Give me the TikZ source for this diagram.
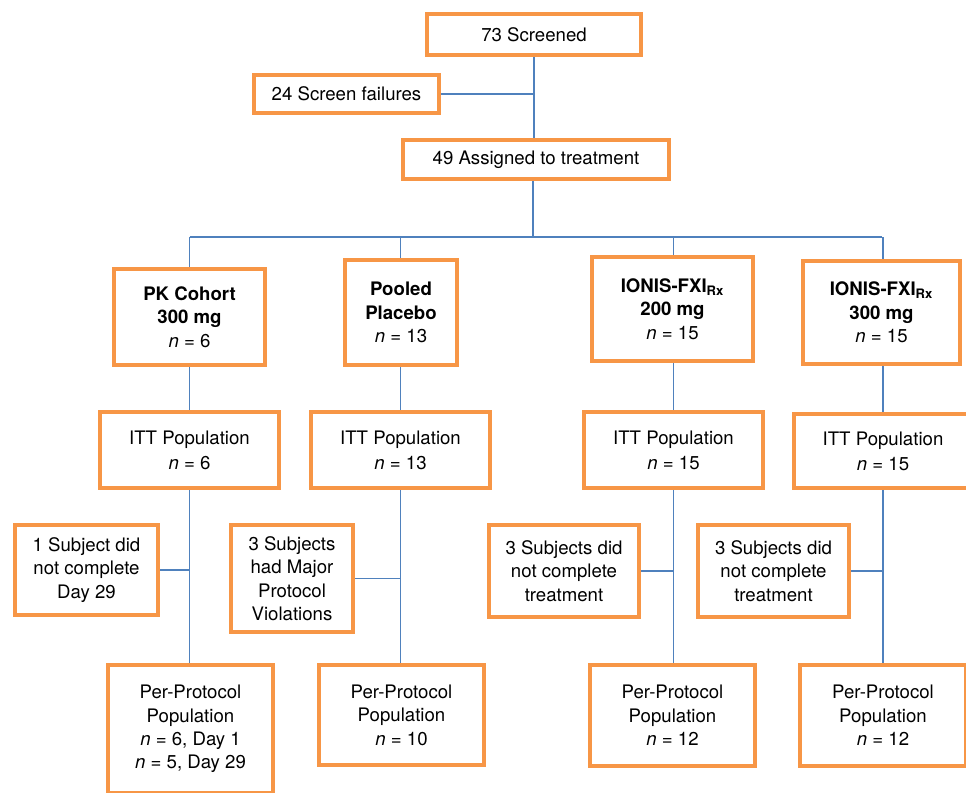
\documentclass[tikz,border=0pt]{standalone}
\usepackage{fontspec}
\setmainfont{TeX Gyre Heros}
\usetikzlibrary{backgrounds}
\definecolor{boxorange}{HTML}{F79646}
\definecolor{lineblue}{HTML}{4F81BD}
\begin{document}
\begin{tikzpicture}[x=0.02cm,y=-0.02cm,
    font=\fontsize{10.6}{13.3}\selectfont,
    box/.style={draw=boxorange,line width=2.2pt,fill=white,align=center,inner sep=1pt},
    sz/.style 2 args={minimum width=#1*0.02cm,minimum height=#2*0.02cm},
    link/.style={draw=lineblue,line width=0.8pt}]
  \path[use as bounding box,clip] (0,0) rectangle (966,792);

  \node[box,sz={214}{41}] (scr) at (534,34.5) {73 Screened};
  \node[box,sz={185}{38}] (fail) at (346.5,94) {24 Screen failures};
  \node[box,sz={266}{39}] (asg) at (536,159.5) {49 Assigned to treatment};
  \coordinate (split) at (533,237);

  \node[box,sz={151}{96}] (pk) at (189.5,317) {\textbf{PK Cohort}\\\textbf{300 mg}\\\textit{n} = 6};
  \node[box,sz={112}{105}] (plac) at (401,312.5) {\textbf{Pooled}\\\textbf{Placebo}\\\textit{n} = 13};
  \node[box,sz={161}{104}] (fxia) at (672.5,309) {\textbf{IONIS-FXI\textsubscript{Rx}}\\\textbf{200 mg}\\\textit{n} = 15};
  \node[box,sz={157}{103}] (fxib) at (881.5,312.5) {\textbf{IONIS-FXI\textsubscript{Rx}}\\\textbf{300 mg}\\\textit{n} = 15};

  \node[box,sz={179}{76}] (ittpk) at (189.5,450) {ITT Population\\[1pt]\textit{n} = 6};
  \node[box,sz={179}{76}] (ittplac) at (400.5,450) {ITT Population\\[1pt]\textit{n} = 13};
  \node[box,sz={179}{76}] (ittfxia) at (673.5,450) {ITT Population\\[1pt]\textit{n} = 15};
  \node[box,sz={178}{74}] (ittfxib) at (883,451) {ITT Population\\[1pt]\textit{n} = 15};

  \node[box,sz={143}{90}] (offpk) at (86.5,570) {1 Subject did\\not complete\\Day 29};
  \node[box,sz={122}{107}] (offplac) at (292,578.5) {3 Subjects\\had Major\\Protocol\\Violations};
  \node[box,sz={150}{92}] (offfxia) at (564,571) {3 Subjects did\\not complete\\treatment};
  \node[box,sz={151}{92}] (offfxib) at (773.5,571) {3 Subjects did\\not complete\\treatment};

  \node[box,sz={165}{128}] (pppk) at (190.5,729) {Per-Protocol\\Population\\\textit{n} = 6, Day 1\\\textit{n} = 5, Day 29};
  \node[box,sz={165}{100}] (ppplac) at (401.5,715) {Per-Protocol\\Population\\\textit{n} = 10};
  \node[box,sz={165}{101}] (ppfxia) at (672.5,715.5) {Per-Protocol\\Population\\\textit{n} = 12};
  \node[box,sz={166}{101}] (ppfxib) at (883,715.5) {Per-Protocol\\Population\\\textit{n} = 12};

  \begin{scope}[on background layer]
    \draw[link] (scr.south) -- (scr.south |- asg.north);
    \draw[link] (fail.east) -- (fail.east -| scr.south);
    \draw[link] (split |- asg.south) -- (split);
    \draw[link] (pk.north |- split) -- (fxib.north |- split);
    \foreach \c in {pk,plac,fxia,fxib} {
      \draw[link] (itt\c.north |- split) -- (itt\c.north);
      \draw[link] (itt\c.south) -- (itt\c.south |- pp\c.north);
      \draw[link] (off\c.east) -- (off\c.east -| itt\c.south);
    }
  \end{scope}
\end{tikzpicture}
\end{document}
